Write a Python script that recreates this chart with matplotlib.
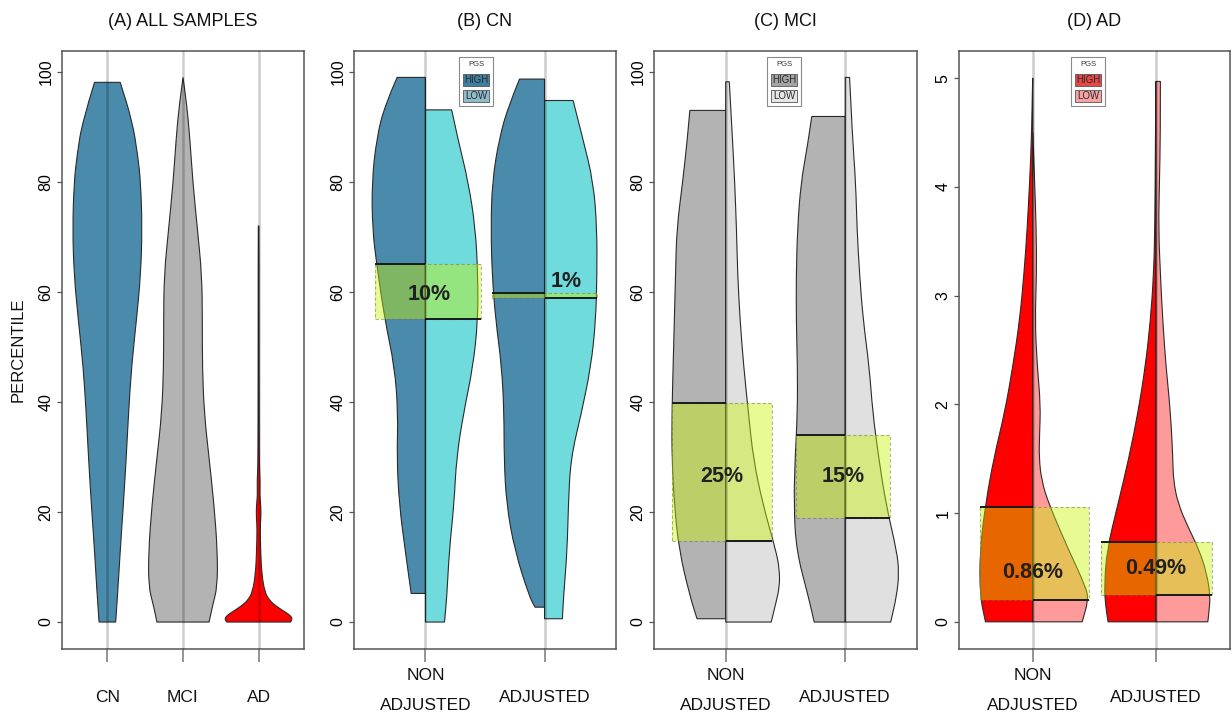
import numpy as np
import matplotlib
matplotlib.use("Agg")
import matplotlib.pyplot as plt
from matplotlib.patches import Rectangle, PathPatch
from matplotlib.path import Path
from matplotlib.transforms import blended_transform_factory

plt.rcParams["font.family"] = ["Liberation Sans", "DejaVu Sans"]

# ---------------------------------------------------------------- data
# Panel A: all samples, one full violin per diagnosis group
groups_all = ["CN", "MCI", "AD"]
cn_y = [0, 6, 13, 21, 30, 38, 46.5, 55, 63, 71.5, 80, 85, 91, 98.1]
cn_w = [0.11, 0.14, 0.17, 0.21, 0.25, 0.28, 0.32, 0.385, 0.44, 0.46, 0.44, 0.40, 0.33, 0.17]
mci_y = [0, 3, 6.4, 13, 21.4, 29.8, 38, 46.5, 54.8, 63, 71.5, 80, 88, 94, 99]
mci_w = [0.345, 0.39, 0.455, 0.455, 0.41, 0.345, 0.28, 0.256, 0.256, 0.25, 0.19, 0.13, 0.09, 0.05, 0.0]
ad_y = [0, 0.5, 1.2, 2.0, 3.0, 4.0, 5.5, 8.9, 13, 17, 19, 21, 23, 25.6, 28, 35, 50, 65, 72]
ad_w = [0.42, 0.45, 0.42, 0.33, 0.22, 0.14, 0.08, 0.04, 0.027, 0.02, 0.03, 0.03, 0.015, 0.02, 0.01, 0.008, 0.006, 0.006, 0.004]

# Panels B-D: split violins, HIGH PGS on the left half, LOW PGS on the right
groups_split = ["NON\nADJUSTED", "ADJUSTED"]

# (B) CN
cn_na_high_y = [5.2, 13, 21.4, 29.8, 38, 46.5, 54.8, 65, 71.5, 80, 88, 94, 99]
cn_na_high_w = [0.12, 0.17, 0.22, 0.24, 0.23, 0.26, 0.34, 0.41, 0.445, 0.45, 0.41, 0.34, 0.238]
cn_na_low_y = [0, 4.75, 13, 21.4, 29.8, 38, 46.5, 54.8, 63, 71.5, 80, 88, 93.1]
cn_na_low_w = [0.16, 0.18, 0.20, 0.24, 0.26, 0.32, 0.40, 0.44, 0.44, 0.42, 0.36, 0.27, 0.22]
cn_adj_high_y = [2.7, 4.75, 13, 21.4, 29.8, 38, 46.5, 54.8, 63, 71.5, 80, 88, 94, 98.7]
cn_adj_high_w = [0.08, 0.13, 0.25, 0.32, 0.34, 0.34, 0.36, 0.41, 0.44, 0.45, 0.44, 0.38, 0.30, 0.21]
cn_adj_low_y = [0.6, 4.75, 13, 21.4, 29.8, 38, 46.5, 54.8, 63, 71.5, 80, 88, 94.8]
cn_adj_low_w = [0.15, 0.16, 0.19, 0.20, 0.22, 0.31, 0.39, 0.43, 0.44, 0.44, 0.41, 0.32, 0.24]

# (C) MCI
mci_na_high_y = [0.6, 4.75, 13, 21.4, 29.8, 38, 46.5, 54.8, 63, 71.5, 80, 88, 93]
mci_na_high_w = [0.24, 0.30, 0.39, 0.43, 0.45, 0.45, 0.44, 0.43, 0.42, 0.41, 0.36, 0.32, 0.30]
mci_na_low_y = [0, 3.5, 6.4, 9.5, 13, 21.4, 29.8, 38, 46.5, 54.8, 63, 71.5, 80, 88, 98.2]
mci_na_low_w = [0.38, 0.42, 0.45, 0.45, 0.42, 0.31, 0.23, 0.19, 0.15, 0.12, 0.10, 0.09, 0.075, 0.056, 0.03]
mci_adj_high_y = [0, 4.75, 13, 21.4, 29.8, 38, 46.5, 54.8, 63, 71.5, 80, 86, 91.9]
mci_adj_high_w = [0.26, 0.31, 0.41, 0.43, 0.42, 0.40, 0.40, 0.41, 0.41, 0.40, 0.37, 0.32, 0.28]
mci_adj_low_y = [0, 4.75, 9, 13, 21.4, 29.8, 38, 46.5, 54.8, 63, 71.5, 80, 88, 99]
mci_adj_low_w = [0.38, 0.43, 0.45, 0.43, 0.34, 0.28, 0.23, 0.20, 0.15, 0.12, 0.098, 0.087, 0.06, 0.036]

# (D) AD
ad_na_high_y = [0, 0.24, 0.66, 1.08, 1.51, 1.93, 2.35, 2.77, 3.19, 3.62, 4.04, 4.46, 5.0]
ad_na_high_w = [0.385, 0.43, 0.43, 0.385, 0.317, 0.228, 0.163, 0.108, 0.073, 0.046, 0.027, 0.01, 0.002]
ad_na_low_y = [0, 0.2, 0.32, 0.66, 1.08, 1.3, 1.51, 1.72, 2.0, 2.35, 2.77, 3.19, 3.62, 4.04, 4.5]
ad_na_low_w = [0.40, 0.45, 0.43, 0.29, 0.13, 0.07, 0.05, 0.054, 0.062, 0.035, 0.017, 0.03, 0.027, 0.014, 0.0]
ad_adj_high_y = [0, 0.15, 0.32, 0.66, 1.08, 1.51, 1.93, 2.35, 2.77, 3.19, 3.62, 4.46, 4.97]
ad_adj_high_w = [0.39, 0.41, 0.42, 0.40, 0.31, 0.22, 0.146, 0.087, 0.046, 0.02, 0.01, 0.005, 0.002]
ad_adj_low_y = [0, 0.1, 0.24, 0.45, 0.66, 0.87, 1.08, 1.3, 1.51, 1.93, 2.35, 2.77, 3.19, 3.62, 4.04, 4.46, 4.97]
ad_adj_low_w = [0.42, 0.43, 0.44, 0.41, 0.35, 0.26, 0.18, 0.14, 0.136, 0.117, 0.08, 0.054, 0.035, 0.02, 0.027, 0.035, 0.035]

# summary percentile of the HIGH and LOW halves (NON ADJUSTED, ADJUSTED)
cn_high = [65.0, 59.9]
cn_low = [55.0, 58.9]
mci_high = [39.8, 34.0]
mci_low = [14.8, 19.0]
ad_high = [1.06, 0.735]
ad_low = [0.20, 0.245]

# ---------------------------------------------------------------- style
BLUE = "#4a8aab"
CYAN = "#6fdbdc"
GREY = "#b3b3b3"
LGREY = "#e0e0e0"
RED = "#ff0000"
PINK = "#ff9a9a"
OUTLINE = "#2a2a2a"
BAND = "#c8f400"

W, H = 1232, 719
AX_TOP, AX_BOT = 51, 649
fig = plt.figure(figsize=(W / 100, H / 100), dpi=100)


def make_axes(left_px, width_px):
    return fig.add_axes([left_px / W, 1 - AX_BOT / H, width_px / W, (AX_BOT - AX_TOP) / H])


def style_axes(ax, title, xticks, xlabels, yticks, ylim, xlim):
    ax.set_xlim(*xlim)
    ax.set_ylim(*ylim)
    for s in ax.spines.values():
        s.set_color("#555555")
        s.set_linewidth(1.1)
    ax.set_yticks(yticks)
    ax.set_yticklabels([f"{t:g}" for t in yticks], rotation=90, va="center", fontsize=11.5)
    ax.tick_params(axis="y", direction="out", length=3.6, width=0.9, color="#555555", pad=2.6)
    ax.set_xticks(xticks)
    ax.set_xticklabels([])
    ax.tick_params(axis="x", direction="out", length=9.4, width=1.1, color="#777777")
    # category guide lines
    for x in xticks:
        ax.axvline(x, color="black", alpha=0.2, lw=1.8, zorder=5)
    tr = blended_transform_factory(ax.transData, ax.transAxes)
    span = AX_BOT - AX_TOP
    for x, lab in zip(xticks, xlabels):
        lines = lab.split("\n")
        first = 697 - 21 * (len(lines) - 1)
        for i, line in enumerate(lines):
            ypx = first + 30 * i
            ax.text(x, -(ypx - AX_BOT) / span, line, transform=tr, ha="center", va="center",
                    fontsize=12.5, color="#111111")
    ax.text(0.5, 1 + (AX_TOP - 21) / span, title, transform=ax.transAxes,
            ha="center", va="center", fontsize=13, color="#111111")


def smooth_chain(pts):
    """Quadratic-Bezier path pieces running from pts[0] through the interior points to pts[-1]."""
    verts, codes = [], []
    n = len(pts)
    if n < 3:
        for p in pts[1:]:
            verts.append(p)
            codes.append(Path.LINETO)
        return verts, codes
    verts.append(0.5 * (pts[0] + pts[1]))
    codes.append(Path.LINETO)
    for i in range(1, n - 1):
        end = pts[i + 1] if i == n - 2 else 0.5 * (pts[i] + pts[i + 1])
        verts += [pts[i], end]
        codes += [Path.CURVE3, Path.CURVE3]
    return verts, codes


def add_outline(ax, verts, codes, color):
    ax.add_patch(PathPatch(Path(np.array(verts), codes), facecolor=color, edgecolor=OUTLINE,
                           lw=0.8, zorder=2))


def full_violin(ax, x0, ys, ws, color):
    ys = np.asarray(ys, float)
    ws = np.asarray(ws, float)
    left = np.column_stack([x0 - ws, ys])
    right = np.column_stack([x0 + ws, ys])[::-1]
    verts, codes = [left[0]], [Path.MOVETO]
    v, c = smooth_chain(left)
    verts += v
    codes += c
    verts.append(right[0])
    codes.append(Path.LINETO)
    v, c = smooth_chain(right)
    verts += v
    codes += c
    verts.append(left[0])
    codes.append(Path.CLOSEPOLY)
    add_outline(ax, verts, codes, color)


def half_violin(ax, x0, ys, ws, side, color):
    ys = np.asarray(ys, float)
    ws = np.asarray(ws, float)
    xs = x0 - ws if side == "left" else x0 + ws
    edge = np.column_stack([xs, ys])
    verts, codes = [np.array([x0, ys[0]]), edge[0]], [Path.MOVETO, Path.LINETO]
    v, c = smooth_chain(edge)
    verts += v
    codes += c
    verts += [np.array([x0, ys[-1]]), np.array([x0, ys[0]])]
    codes += [Path.LINETO, Path.CLOSEPOLY]
    add_outline(ax, verts, codes, color)


def diff_label(hi, lo):
    d = hi - lo
    return f"{round(d):d}%" if d >= 1 else f"{d:.2f}%"


def band(ax, x0, hi, lo, ext, label_dx, label_y):
    left, right = ext
    ax.add_patch(Rectangle((x0 - left, lo), left + right, hi - lo, facecolor=BAND, alpha=0.42,
                           edgecolor="none", zorder=3))
    ax.add_patch(Rectangle((x0 - left, lo), left + right, hi - lo, facecolor="none",
                           edgecolor=(0.45, 0.45, 0.35, 0.55), lw=0.8, ls=(0, (3, 2)), zorder=3))
    ax.plot([x0 - left, x0], [hi, hi], color="#1a1a1a", lw=1.4, zorder=4, solid_capstyle="butt")
    ax.plot([x0, x0 + right], [lo, lo], color="#1a1a1a", lw=1.4, zorder=4, solid_capstyle="butt")
    ax.text(x0 + label_dx, label_y, diff_label(hi, lo), ha="center", va="center",
            fontsize=15.5, fontweight="bold", color="#202020", zorder=6)


def legend(cx, high_col, low_col):
    def rect(x0, y0, x1, y1, fc, ec, lw):
        fig.add_artist(Rectangle((x0 / W, 1 - y1 / H), (x1 - x0) / W, (y1 - y0) / H,
                                 transform=fig.transFigure, facecolor=fc, edgecolor=ec, lw=lw))
    rect(cx - 17, 57, cx + 17, 106, "white", "#8a8a8a", 0.8)
    fig.text(cx / W, 1 - 65 / H, "PGS", ha="center", va="center", fontsize=5.5, color="#333333")
    rect(cx - 13, 74, cx + 13, 86, high_col, "#555555", 0.6)
    fig.text(cx / W, 1 - 80 / H, "HIGH", ha="center", va="center", fontsize=7, color="#2a2a2a")
    rect(cx - 13, 90, cx + 13, 102, low_col, "#555555", 0.6)
    fig.text(cx / W, 1 - 96 / H, "LOW", ha="center", va="center", fontsize=7, color="#2a2a2a")


PCT_LIM = (-4.9, 103.8)
PCT_TICKS = [0, 20, 40, 60, 80, 100]

# ---------------------------------------------------------------- (A)
axA = make_axes(62, 242)
full_violin(axA, 1, cn_y, cn_w, BLUE)
full_violin(axA, 2, mci_y, mci_w, GREY)
full_violin(axA, 3, ad_y, ad_w, RED)
style_axes(axA, "(A) ALL SAMPLES", [1, 2, 3], groups_all, PCT_TICKS, PCT_LIM, (0.4, 3.6))

# ---------------------------------------------------------------- (B)
axB = make_axes(354, 262)
half_violin(axB, 1, cn_na_high_y, cn_na_high_w, "left", BLUE)
half_violin(axB, 1, cn_na_low_y, cn_na_low_w, "right", CYAN)
half_violin(axB, 2, cn_adj_high_y, cn_adj_high_w, "left", BLUE)
half_violin(axB, 2, cn_adj_low_y, cn_adj_low_w, "right", CYAN)
band(axB, 1, cn_high[0], cn_low[0], (0.42, 0.47), 0.03, 59.6)
band(axB, 2, cn_high[1], cn_low[1], (0.44, 0.44), 0.18, 61.9)
style_axes(axB, "(B) CN", [1, 2], groups_split, PCT_TICKS, PCT_LIM, (0.4, 2.6))
legend(476, "#3f7fa0", "#8fbccc")

# ---------------------------------------------------------------- (C)
axC = make_axes(654, 263)
half_violin(axC, 1, mci_na_high_y, mci_na_high_w, "left", GREY)
half_violin(axC, 1, mci_na_low_y, mci_na_low_w, "right", LGREY)
half_violin(axC, 2, mci_adj_high_y, mci_adj_high_w, "left", GREY)
half_violin(axC, 2, mci_adj_low_y, mci_adj_low_w, "right", LGREY)
band(axC, 1, mci_high[0], mci_low[0], (0.45, 0.39), -0.03, 26.4)
band(axC, 2, mci_high[1], mci_low[1], (0.41, 0.375), -0.02, 26.4)
style_axes(axC, "(C) MCI", [1, 2], groups_split, PCT_TICKS, PCT_LIM, (0.4, 2.6))
legend(784, "#a3a3a3", "#e6e6e6")

# ---------------------------------------------------------------- (D)
axD = make_axes(959, 271)
half_violin(axD, 1, ad_na_high_y, ad_na_high_w, "left", RED)
half_violin(axD, 1, ad_na_low_y, ad_na_low_w, "right", PINK)
half_violin(axD, 2, ad_adj_high_y, ad_adj_high_w, "left", RED)
half_violin(axD, 2, ad_adj_low_y, ad_adj_low_w, "right", PINK)
band(axD, 1, ad_high[0], ad_low[0], (0.43, 0.455), 0.0, 0.45)
band(axD, 2, ad_high[1], ad_low[1], (0.45, 0.45), 0.0, 0.49)
style_axes(axD, "(D) AD", [1, 2], groups_split, [0, 1, 2, 3, 4, 5], (-0.25, 5.25), (0.4, 2.6))
legend(1088, "#e84848", "#f7a3a3")

fig.text(18 / W, 1 - 350 / H, "PERCENTILE", rotation=90, ha="center", va="center",
         fontsize=12, color="#111111")

fig.savefig("out.png", dpi=100)
